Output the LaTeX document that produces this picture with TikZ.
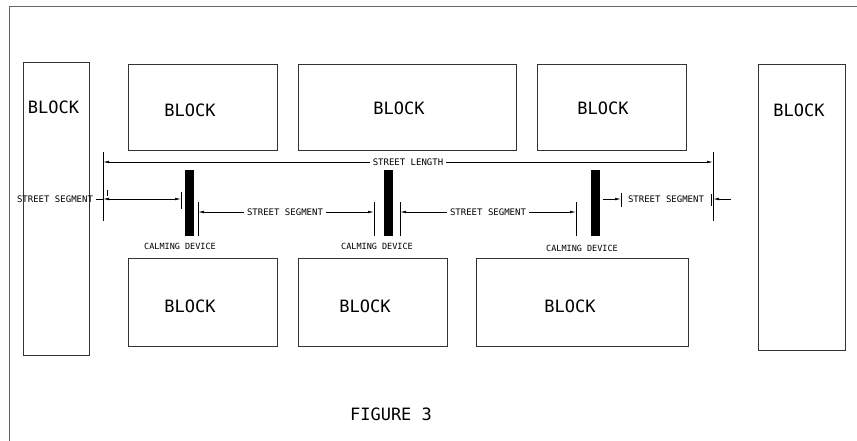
\documentclass[tikz,border=0pt]{standalone}
\usepackage{fontspec}
\setmonofont{DejaVu Sans Mono}
\usetikzlibrary{arrows.meta}
\begin{document}
\begin{tikzpicture}[x=1pt,y=-1pt,
  blockbox/.style={draw=black!80,line width=0.9pt,inner sep=0pt},
  bigtxt/.style={font=\ttfamily\fontsize{17}{17}\selectfont,inner sep=0pt},
  smalltxt/.style={font=\ttfamily\fontsize{9}{9}\selectfont,inner sep=0pt,fill=white,inner xsep=3pt},
  devbox/.style={fill=black,draw=none,inner sep=0pt,minimum width=9pt,minimum height=66pt},
  extline/.style={draw=black,line width=0.6pt},
  dimline/.style={draw=black,line width=0.6pt},
  tip/.style={-{Latex[length=6pt,width=2.6pt]}}
]
\useasboundingbox (0,0) rectangle (857,441);
% frame
\draw[draw=black!60,line width=1pt] (9,441) -- (9,6.5) -- (857,6.5);
% blocks
\node[blockbox,minimum width=66pt,minimum height=293pt] (bl) at (56,208.5) {};
\node[blockbox,minimum width=87pt,minimum height=286pt] (br) at (801.5,207) {};
\node[blockbox,minimum width=149pt,minimum height=86pt] (t1) at (202.5,107) {};
\node[blockbox,minimum width=218pt,minimum height=86pt] (t2) at (407,107) {};
\node[blockbox,minimum width=149pt,minimum height=86pt] (t3) at (611.5,107) {};
\node[blockbox,minimum width=149pt,minimum height=88pt] (b1) at (202.5,302) {};
\node[blockbox,minimum width=149pt,minimum height=88pt] (b2) at (372.5,302) {};
\node[blockbox,minimum width=212pt,minimum height=88pt] (b3) at (582,302) {};
% block labels
\node[bigtxt] (lbl) at (53.5,107) {BLOCK};
\node[bigtxt] (lbr) at (799,110) {BLOCK};
\node[bigtxt] (lt1) at (190,110) {BLOCK};
\node[bigtxt] (lt2) at (399,108) {BLOCK};
\node[bigtxt] (lt3) at (603,108) {BLOCK};
\node[bigtxt] (lb1) at (190,306) {BLOCK};
\node[bigtxt] (lb2) at (365,306) {BLOCK};
\node[bigtxt] (lb3) at (570,306) {BLOCK};
% calming devices
\node[devbox] (d1) at (189.5,203) {};
\node[devbox] (d2) at (388,203) {};
\node[devbox] (d3) at (595,203) {};
\node[font=\ttfamily\fontsize{8.5}{8.5}\selectfont,inner sep=0pt] (cd1) at (180,246) {CALMING DEVICE};
\node[font=\ttfamily\fontsize{8.5}{8.5}\selectfont,inner sep=0pt] (cd2) at (377,246) {CALMING DEVICE};
\node[font=\ttfamily\fontsize{8.5}{8.5}\selectfont,inner sep=0pt] (cd3) at (582,248) {CALMING DEVICE};
% extension lines
\coordinate (e0t) at (103,152); \coordinate (e0b) at (103,221);
\coordinate (e5t) at (713,152); \coordinate (e5b) at (713,221);
\coordinate (a1t) at (181,192); \coordinate (a1b) at (181,209);
\coordinate (a2t) at (198,202); \coordinate (a2b) at (198,236);
\coordinate (a3t) at (374,202); \coordinate (a3b) at (374,236);
\coordinate (a4t) at (400,202); \coordinate (a4b) at (400,236);
\coordinate (a5t) at (576,202); \coordinate (a5b) at (576,236);
\coordinate (a6t) at (621,193); \coordinate (a6b) at (621,207);
\coordinate (a7t) at (711,194); \coordinate (a7b) at (711,206);
\coordinate (i1t) at (107,190); \coordinate (i1b) at (107,196);
\foreach \p in {e0,e5,a1,a2,a3,a4,a5,a6,a7,i1} {\draw[extline] (\p t) -- (\p b);}
% street length
\node[smalltxt] (sl) at (408,162) {STREET LENGTH};
\coordinate (sl0) at (103,162); \coordinate (sl5) at (713,162);
\draw[dimline,tip] (sl.west) -- (sl0);
\draw[dimline,tip] (sl.east) -- (sl5);
% segment 1
\node[smalltxt,fill=none,inner xsep=0pt] (s1) at (55,199.5) {STREET SEGMENT};
\coordinate (s1a) at (103,199); \coordinate (s1b) at (181,199);
\coordinate (s1c) at (142,199);
\draw[dimline] ([xshift=3pt]s1.east|-s1a) -- (s1a);
\draw[dimline,tip] (s1c) -- (s1a);
\draw[dimline,tip] (s1c) -- (s1b);
% segment 2
\node[smalltxt] (s2) at (285,212) {STREET SEGMENT};
\coordinate (s2a) at (198,212); \coordinate (s2b) at (374,212);
\draw[dimline,tip] (s2.west) -- (s2a);
\draw[dimline,tip] (s2.east) -- (s2b);
% segment 3
\node[smalltxt] (s3) at (488,212) {STREET SEGMENT};
\coordinate (s3a) at (400,212); \coordinate (s3b) at (576,212);
\draw[dimline,tip] (s3.west) -- (s3a);
\draw[dimline,tip] (s3.east) -- (s3b);
% segment 4
\node[smalltxt,fill=none,inner xsep=0pt] (s4) at (666,199.5) {STREET SEGMENT};
\coordinate (s4a) at (603,199); \coordinate (s4b) at (621,199);
\coordinate (s4c) at (713,199); \coordinate (s4d) at (731,199);
\draw[dimline,tip] (s4a) -- (s4b);
\draw[dimline,tip] (s4d) -- (s4c);
% caption
\node[bigtxt] (fig) at (391,414) {FIGURE 3};
\end{tikzpicture}
\end{document}
